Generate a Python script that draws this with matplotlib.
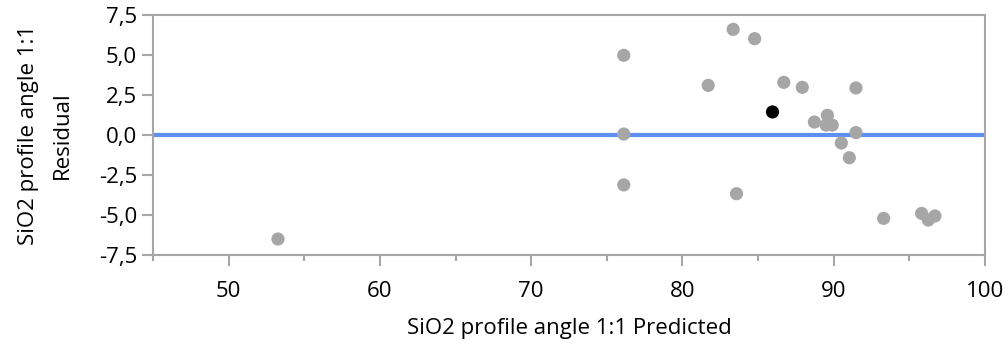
import matplotlib
matplotlib.use("Agg")
import matplotlib.pyplot as plt
from matplotlib.ticker import FuncFormatter, MultipleLocator

plt.rcParams['font.family'] = ['Open Sans', 'DejaVu Sans']

# Predicted values and residuals
predicted = [53.26, 76.12, 76.12, 76.12, 81.7, 83.35, 83.57, 84.77, 86.7, 87.92,
             88.72, 89.5, 89.58, 89.9, 90.5, 91.03, 91.47, 91.47, 93.3, 95.81,
             96.25, 96.69]
residual = [-6.5, 4.98, 0.06, -3.12, 3.1, 6.6, -3.67, 6.02, 3.29, 2.98,
            0.81, 0.62, 1.23, 0.62, -0.5, -1.42, 2.94, 0.15, -5.21, -4.9,
            -5.31, -5.06]
highlight_pred = [85.95]
highlight_resid = [1.44]

x_major = [50, 60, 70, 80, 90, 100]
y_major = [-7.5, -5.0, -2.5, 0.0, 2.5, 5.0, 7.5]

fig = plt.figure(figsize=(10.08, 3.47), dpi=100)
ax = fig.add_axes([0.1518, 0.2651, 0.8254, 0.6917])

ax.axhline(0, color='#5f8ff0', lw=3.0, zorder=2)
ax.scatter(predicted, residual, s=90, color='#a6a6a6', edgecolors='none', zorder=3)
ax.scatter(highlight_pred, highlight_resid, s=90, color='black', edgecolors='none', zorder=4)

ax.set_xlim(45, 100)
ax.set_ylim(-7.5, 7.5)
ax.set_xticks(x_major)
ax.xaxis.set_minor_locator(MultipleLocator(5))
ax.set_yticks(y_major)
ax.yaxis.set_major_formatter(FuncFormatter(lambda v, p: f"{v:.1f}".replace('.', ',')))

for s in ax.spines.values():
    s.set_color('#a6a6a6')
    s.set_linewidth(1.5)

ax.tick_params(axis='both', which='major', length=8, width=1.5, color='#a6a6a6',
               labelsize=16, labelcolor='black')
ax.tick_params(axis='x', which='major', pad=11)
ax.tick_params(axis='y', which='major', pad=3.5)
ax.tick_params(axis='x', which='minor', length=4, width=1.5, color='#a6a6a6')

ax.set_xlabel('SiO2 profile angle 1:1 Predicted', fontsize=16, labelpad=11)
ax.set_ylabel('SiO2 profile angle 1:1\nResidual', fontsize=16, linespacing=1.8)
ax.yaxis.label.set_va('center')
ax.yaxis.set_label_coords(-0.1292, 0.5)

fig.savefig('out.png', dpi=100)
